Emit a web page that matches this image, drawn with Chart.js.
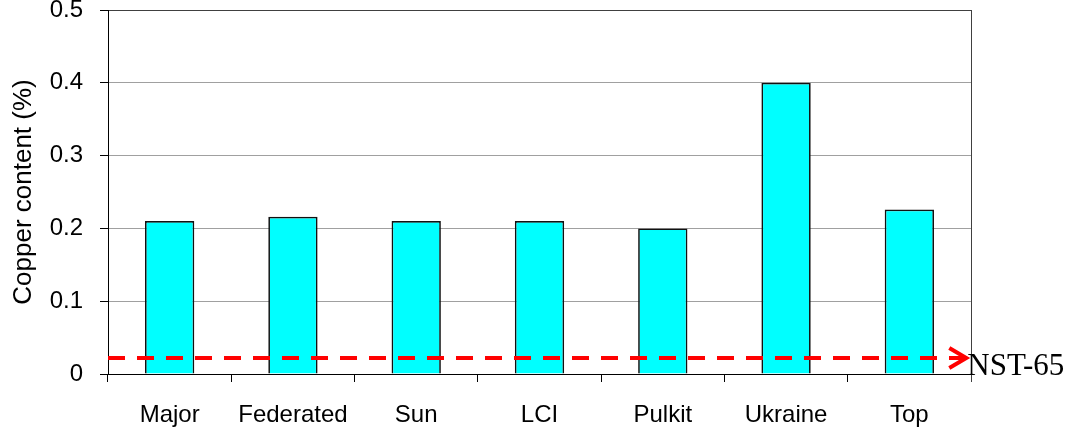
<!DOCTYPE html>
<html>
<head>
<meta charset="utf-8">
<script src="https://cdn.jsdelivr.net/npm/chart.js@4.4.1/dist/chart.umd.min.js"></script>
<style>
  html, body { margin: 0; padding: 0; background: #ffffff; }
  #wrap { width: 1076px; height: 433px; }
</style>
</head>
<body>
<div id="wrap"><canvas id="chart" width="1076" height="433"></canvas></div>
<script>
// Copper content of each sample, in percent
const categories = ['Major', 'Federated', 'Sun', 'LCI', 'Pulkit', 'Ukraine', 'Top'];
const copperContent = [0.21, 0.216, 0.21, 0.21, 0.2, 0.4, 0.226];
const yTicks = [0, 0.1, 0.2, 0.3, 0.4, 0.5];

// Specification limit drawn as a dashed reference line
const limitLabel = 'NST-65';
const limitValue = 0.022;
const limitSpan = [0, 6.97]; // in category units along the axis

const sans = '"Liberation Sans", Arial, sans-serif';
const serif = '"Liberation Serif", "Times New Roman", serif';

// Draws the plot-area right edge, the arrow head of the limit line and its label
const decorations = {
  id: 'decorations',
  afterDatasetsDraw(chart) {
    const { ctx, chartArea } = chart;
    ctx.save();
    ctx.strokeStyle = '#404040';
    ctx.lineWidth = 1;
    ctx.beginPath();
    ctx.moveTo(Math.round(chartArea.right) + 0.5, chartArea.top);
    ctx.lineTo(Math.round(chartArea.right) + 0.5, chartArea.bottom + 8);
    ctx.stroke();

    const meta = chart.getDatasetMeta(1);
    const end = meta.data[meta.data.length - 1];
    const tx = end.x, ty = end.y;
    ctx.strokeStyle = '#ff0000';
    ctx.lineWidth = 4;
    ctx.lineCap = 'butt';
    ctx.lineJoin = 'miter';
    ctx.beginPath();
    ctx.moveTo(tx - 18, ty - 10);
    ctx.lineTo(tx - 1, ty);
    ctx.lineTo(tx - 18, ty + 10);
    ctx.stroke();

    ctx.fillStyle = '#000000';
    ctx.font = '31px ' + serif;
    ctx.textAlign = 'left';
    ctx.textBaseline = 'alphabetic';
    ctx.fillText(limitLabel, tx, ty + 17);
    ctx.restore();
  }
};

new Chart(document.getElementById('chart'), {
  data: {
    labels: categories,
    datasets: [
      {
        type: 'bar',
        data: copperContent,
        backgroundColor: '#00ffff',
        borderColor: '#111111',
        borderWidth: 1.7,
        grouped: false,
        barPercentage: 0.4,
        categoryPercentage: 1.0,
        xAxisID: 'x',
        yAxisID: 'y',
        order: 2
      },
      {
        type: 'line',
        data: limitSpan.map(v => ({ x: v, y: limitValue })),
        borderColor: '#ff0000',
        borderWidth: 4,
        borderDash: [17, 12],
        pointRadius: 0,
        fill: false,
        clip: false,
        xAxisID: 'xl',
        yAxisID: 'y',
        order: 1
      }
    ]
  },
  options: {
    responsive: false,
    animation: false,
    devicePixelRatio: 1,
    layout: { padding: { top: 10, right: 105, bottom: 0, left: 0 } },
    plugins: { legend: { display: false }, tooltip: { enabled: false } },
    scales: {
      x: {
        type: 'category',
        offset: true,
        grid: { display: true, drawOnChartArea: false, tickLength: 8, color: '#000000', offset: true },
        border: { color: '#000000', width: 1 },
        ticks: { color: '#000000', font: { family: sans, size: 24 }, padding: 19, maxRotation: 0, autoSkip: false },
        afterFit(s) { s.height = 59; s.paddingLeft = 0; s.paddingRight = 0; }
      },
      xl: {
        type: 'linear',
        display: false,
        min: 0,
        max: categories.length
      },
      y: {
        type: 'linear',
        min: 0,
        max: 0.5,
        afterBuildTicks(s) { s.ticks = yTicks.map(v => ({ value: v })); },
        grid: {
          color: c => (c.tick && c.tick.value === 0.5 ? '#404040' : '#a0a0a0'),
          tickColor: '#000000',
          tickLength: 8,
          lineWidth: 1
        },
        border: { color: '#000000', width: 1 },
        ticks: {
          color: '#000000',
          font: { family: sans, size: 24 },
          padding: 17,
          callback: v => String(Math.round(v * 10) / 10)
        },
        title: {
          display: true,
          text: 'Copper content (%)',
          color: '#000000',
          font: { family: sans, size: 26 },
          padding: { top: 8, bottom: 0 }
        },
        afterFit(s) { s.width = 108; s.paddingTop = 0; s.paddingBottom = 0; }
      }
    }
  },
  plugins: [decorations]
});
</script>
</body>
</html>
